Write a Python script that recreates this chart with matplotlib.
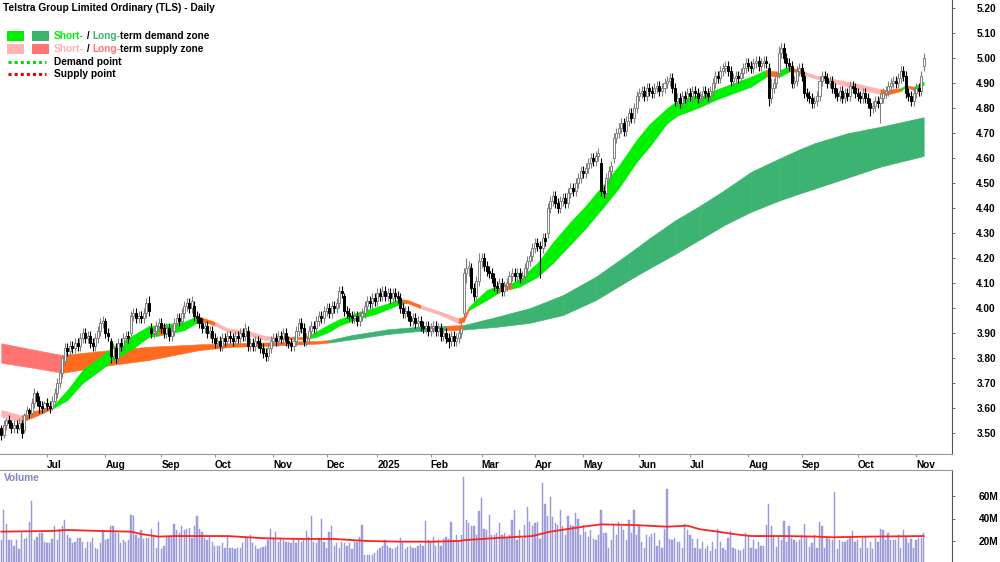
import numpy as np
import matplotlib
matplotlib.use("Agg")
import matplotlib.pyplot as plt
from matplotlib.patches import Rectangle
from matplotlib.lines import Line2D

plt.rcParams['font.family'] = ['Liberation Sans', 'DejaVu Sans']
plt.rcParams['font.weight'] = 'bold'

# daily prices in cents, one value per trading day
opens = [
    352, 349, 353, 355, 354, 352, 353, 352, 354, 351,
    357, 359, 358, 362, 366, 363, 361, 360, 362, 361,
    360, 363, 366, 370, 374, 379, 384, 383, 385, 384,
    386, 385, 388, 390, 388, 389, 386, 385, 388, 391,
    394, 395, 390, 387, 381, 384, 380, 386, 385, 388,
    389, 390, 397, 398, 396, 397, 396, 398, 402, 392,
    390, 391, 393, 394, 392, 390, 392, 389, 391, 394,
    396, 395, 398, 401, 402, 400, 401, 397, 396, 394,
    392, 393, 390, 391, 388, 386, 387, 385, 388, 387,
    389, 388, 387, 389, 388, 390, 389, 391, 385, 386,
    385, 387, 386, 384, 382, 381, 384, 387, 388, 387,
    389, 388, 390, 387, 386, 385, 387, 391, 394, 392,
    387, 388, 391, 393, 392, 395, 397, 396, 399, 400,
    398, 401, 400, 402, 407, 405, 399, 398, 397, 396,
    397, 395, 397, 398, 401, 403, 402, 404, 403, 406,
    405, 407, 405, 406, 404, 406, 405, 404, 400, 398,
    399, 397, 395, 396, 394, 395, 393, 392, 393, 391,
    392, 393, 391, 392, 389, 390, 388, 387, 389, 387,
    388, 390, 398, 414, 416, 416, 408, 405, 411, 419,
    420, 417, 415, 414, 412, 409, 408, 410, 407, 409,
    410, 413, 414, 413, 414, 412, 413, 416, 419, 421,
    424, 426, 425, 424, 428, 430, 440, 443, 445, 442,
    440, 443, 444, 442, 446, 448, 447, 450, 452, 455,
    454, 456, 458, 460, 459, 461, 458, 447, 446, 452,
    455, 460, 468, 470, 472, 474, 471, 475, 478, 476,
    480, 485, 486, 487, 485, 488, 487, 486, 488, 489,
    487, 488, 490, 491, 492, 488, 483, 484, 482, 485,
    484, 486, 485, 487, 486, 484, 485, 487, 486, 485,
    487, 490, 493, 492, 495, 496, 497, 495, 491, 492,
    493, 492, 494, 496, 498, 497, 496, 498, 499, 497,
    498, 499, 496, 484, 488, 490, 494, 502, 504, 500,
    498, 497, 490, 491, 495, 496, 493, 486, 485, 484,
    482, 483, 485, 491, 493, 492, 490, 491, 488, 486,
    485, 487, 484, 486, 485, 489, 488, 486, 485, 484,
    486, 484, 482, 480, 481, 483, 482, 484, 486, 487,
    489, 490, 491, 490, 492, 495, 493, 486, 485, 483,
    486, 488, 487, 497,
]
highs = [
    353, 355, 356, 357, 355, 355, 355, 356, 355, 358,
    361, 360, 364, 368, 367, 365, 363, 363, 364, 363,
    365, 368, 372, 376, 381, 386, 386, 387, 387, 388,
    388, 390, 392, 392, 391, 391, 388, 390, 393, 396,
    397, 396, 392, 388, 386, 386, 388, 388, 390, 391,
    391, 399, 400, 400, 399, 399, 400, 404, 405, 394,
    393, 395, 396, 396, 394, 394, 394, 393, 396, 398,
    398, 400, 403, 404, 404, 405, 403, 399, 398, 396,
    395, 395, 393, 393, 390, 389, 389, 390, 390, 391,
    391, 390, 391, 391, 392, 392, 394, 393, 388, 388,
    389, 389, 388, 386, 384, 386, 389, 390, 390, 391,
    391, 392, 392, 389, 388, 389, 393, 396, 396, 394,
    390, 393, 395, 395, 397, 399, 399, 401, 402, 402,
    403, 403, 404, 409, 409, 406, 401, 400, 399, 399,
    399, 399, 400, 403, 405, 405, 406, 406, 408, 408,
    409, 409, 408, 408, 408, 408, 407, 406, 402, 401,
    401, 399, 398, 398, 397, 397, 395, 395, 395, 394,
    395, 395, 394, 394, 392, 392, 390, 391, 391, 390,
    392, 394, 416, 420, 419, 418, 410, 413, 422, 422,
    422, 419, 417, 416, 414, 411, 412, 412, 411, 412,
    415, 416, 416, 416, 416, 415, 418, 421, 423, 426,
    428, 428, 427, 430, 430, 442, 445, 447, 447, 444,
    445, 446, 446, 448, 450, 450, 452, 454, 457, 457,
    458, 460, 462, 462, 463, 464, 460, 449, 454, 457,
    459, 470, 472, 474, 476, 476, 477, 480, 480, 482,
    487, 488, 489, 489, 490, 490, 489, 490, 491, 491,
    490, 492, 493, 494, 494, 490, 486, 486, 487, 487,
    488, 488, 489, 489, 488, 487, 489, 489, 488, 489,
    492, 495, 495, 497, 498, 499, 499, 497, 494, 495,
    495, 496, 498, 500, 500, 499, 500, 501, 501, 500,
    501, 501, 498, 492, 492, 495, 505, 506, 506, 502,
    500, 499, 493, 497, 498, 498, 495, 488, 487, 486,
    485, 487, 493, 495, 495, 494, 493, 493, 490, 488,
    489, 489, 488, 488, 491, 491, 490, 488, 487, 488,
    488, 486, 484, 483, 485, 485, 486, 488, 489, 491,
    492, 493, 493, 494, 497, 497, 495, 488, 487, 488,
    490, 490, 495, 502,
]
lows = [
    347, 348, 351, 352, 350, 350, 350, 351, 348, 350,
    355, 356, 357, 360, 361, 358, 358, 358, 359, 358,
    359, 361, 364, 368, 372, 377, 381, 381, 382, 382,
    383, 383, 386, 386, 386, 384, 383, 383, 386, 389,
    392, 388, 387, 378, 379, 378, 378, 383, 383, 386,
    386, 389, 395, 394, 394, 394, 394, 396, 397, 388,
    388, 389, 391, 390, 388, 388, 387, 387, 389, 392,
    393, 393, 396, 399, 398, 398, 395, 394, 392, 390,
    390, 388, 388, 386, 384, 384, 383, 383, 385, 385,
    386, 385, 385, 386, 386, 387, 387, 383, 383, 383,
    383, 384, 382, 380, 379, 379, 382, 385, 385, 385,
    386, 386, 385, 384, 383, 383, 385, 389, 390, 385,
    385, 386, 389, 390, 390, 393, 394, 394, 397, 396,
    396, 398, 398, 400, 404, 397, 396, 395, 394, 394,
    393, 393, 395, 396, 399, 400, 400, 401, 401, 403,
    403, 403, 403, 402, 402, 403, 402, 398, 396, 396,
    395, 393, 393, 392, 392, 391, 390, 390, 389, 389,
    390, 389, 389, 387, 387, 386, 384, 385, 385, 385,
    386, 388, 396, 410, 413, 406, 403, 403, 409, 416,
    415, 413, 412, 410, 407, 406, 406, 405, 405, 407,
    408, 411, 411, 411, 410, 410, 411, 414, 417, 419,
    422, 423, 412, 422, 425, 428, 438, 441, 440, 438,
    438, 441, 440, 440, 444, 445, 445, 448, 450, 452,
    452, 454, 456, 457, 457, 459, 445, 444, 444, 450,
    453, 458, 466, 468, 470, 469, 469, 473, 474, 474,
    478, 483, 484, 483, 483, 485, 484, 484, 486, 485,
    485, 486, 488, 489, 486, 481, 481, 480, 480, 482,
    482, 483, 483, 484, 482, 482, 483, 484, 483, 483,
    485, 488, 490, 490, 493, 494, 493, 489, 489, 490,
    490, 490, 492, 494, 495, 494, 494, 496, 495, 495,
    496, 496, 481, 482, 486, 488, 492, 500, 498, 496,
    495, 488, 488, 489, 493, 491, 484, 483, 482, 480,
    480, 481, 483, 489, 490, 488, 488, 486, 484, 483,
    483, 482, 482, 483, 483, 486, 484, 483, 482, 482,
    482, 480, 477, 478, 479, 480, 474, 482, 484, 485,
    487, 488, 488, 488, 490, 491, 484, 483, 481, 481,
    484, 485, 485, 495,
]
closes = [
    349, 353, 355, 354, 352, 353, 352, 354, 350, 357,
    359, 358, 362, 366, 363, 361, 360, 362, 361, 360,
    363, 366, 370, 374, 380, 384, 383, 385, 384, 386,
    385, 388, 390, 388, 389, 386, 385, 388, 391, 394,
    395, 390, 389, 381, 384, 380, 386, 385, 388, 389,
    388, 397, 398, 396, 397, 396, 398, 402, 399, 390,
    391, 393, 394, 392, 390, 392, 389, 391, 394, 396,
    395, 398, 401, 402, 400, 403, 397, 396, 394, 392,
    393, 390, 391, 388, 386, 387, 385, 388, 387, 389,
    388, 387, 389, 388, 390, 389, 392, 385, 386, 385,
    387, 386, 384, 382, 381, 384, 387, 388, 387, 389,
    388, 390, 387, 386, 385, 387, 391, 394, 392, 387,
    388, 391, 393, 392, 395, 397, 396, 399, 400, 398,
    401, 400, 402, 407, 406, 399, 398, 397, 396, 397,
    395, 397, 398, 401, 403, 402, 404, 403, 406, 405,
    407, 405, 406, 404, 406, 405, 404, 400, 398, 399,
    397, 395, 396, 394, 395, 393, 392, 393, 391, 392,
    393, 391, 392, 389, 390, 388, 387, 389, 387, 388,
    390, 392, 414, 416, 417, 408, 405, 411, 419, 420,
    417, 415, 414, 412, 409, 408, 410, 407, 409, 410,
    413, 414, 413, 414, 412, 413, 416, 419, 421, 424,
    426, 425, 424, 428, 427, 440, 443, 445, 442, 440,
    443, 444, 442, 446, 448, 447, 450, 452, 455, 454,
    456, 458, 460, 459, 461, 462, 447, 446, 452, 455,
    457, 468, 470, 472, 474, 471, 475, 478, 476, 480,
    485, 486, 487, 485, 488, 487, 486, 488, 489, 487,
    488, 490, 491, 492, 488, 483, 484, 482, 485, 484,
    486, 485, 487, 486, 484, 485, 487, 486, 485, 487,
    490, 493, 492, 495, 496, 497, 495, 491, 492, 493,
    492, 494, 496, 498, 497, 496, 498, 499, 497, 498,
    499, 498, 484, 488, 490, 493, 502, 504, 500, 498,
    497, 490, 491, 495, 496, 493, 486, 485, 484, 482,
    483, 485, 491, 493, 492, 490, 491, 488, 486, 485,
    487, 484, 486, 485, 489, 488, 486, 485, 484, 486,
    484, 482, 480, 481, 483, 482, 484, 486, 487, 489,
    490, 491, 490, 492, 495, 493, 486, 485, 483, 486,
    488, 487, 493, 500,
]
# daily volume, millions of shares
volume = [
    21, 48, 35, 21, 21, 16, 21, 13, 27, 22,
    23, 37, 56, 21, 24, 27, 27, 19, 18, 18,
    22, 33, 21, 31, 33, 39, 25, 23, 18, 19,
    23, 23, 19, 14, 19, 19, 23, 14, 13, 18,
    30, 21, 22, 33, 33, 27, 27, 18, 21, 19,
    21, 43, 42, 25, 23, 30, 22, 23, 23, 31,
    25, 14, 37, 13, 16, 24, 24, 24, 35, 30,
    27, 33, 30, 31, 32, 23, 33, 42, 31, 28,
    23, 21, 24, 19, 16, 16, 16, 18, 14, 24,
    14, 14, 13, 14, 14, 18, 23, 23, 25, 18,
    16, 13, 14, 15, 16, 21, 31, 23, 28, 19,
    23, 21, 19, 19, 18, 21, 18, 21, 19, 21,
    29, 24, 42, 19, 18, 23, 40, 19, 14, 28,
    33, 16, 18, 14, 19, 18, 16, 18, 13, 19,
    19, 24, 34, 8, 8, 8, 8, 9, 12, 14,
    16, 21, 16, 14, 13, 14, 16, 23, 18, 13,
    15, 16, 14, 14, 16, 17, 16, 38, 21, 19,
    24, 16, 21, 16, 22, 24, 22, 37, 21, 25,
    19, 25, 77, 39, 36, 33, 33, 25, 47, 58,
    31, 30, 43, 25, 25, 27, 36, 25, 27, 23,
    25, 39, 48, 21, 30, 23, 34, 50, 37, 33,
    36, 37, 22, 72, 53, 42, 59, 41, 36, 34,
    48, 33, 25, 42, 34, 33, 45, 40, 25, 34,
    28, 24, 30, 22, 21, 25, 48, 27, 27, 14,
    21, 34, 25, 37, 33, 30, 21, 39, 27, 48,
    25, 34, 19, 14, 25, 24, 26, 27, 16, 21,
    14, 31, 66, 22, 21, 23, 19, 19, 14, 35,
    30, 25, 22, 14, 22, 13, 19, 13, 16, 11,
    19, 13, 31, 19, 14, 12, 23, 29, 14, 13,
    12, 11, 13, 27, 25, 14, 21, 13, 19, 16,
    16, 34, 53, 33, 25, 15, 24, 21, 38, 19,
    33, 23, 21, 19, 21, 25, 35, 24, 15, 18,
    25, 14, 37, 33, 14, 24, 22, 21, 64, 13,
    21, 19, 19, 21, 23, 29, 19, 21, 14, 23,
    24, 14, 19, 13, 23, 19, 31, 30, 21, 27,
    21, 21, 21, 25, 14, 30, 24, 18, 22, 14,
    21, 23, 23, 27,
]
# volume average line, read at a few bars
vma_idx = [0, 20, 26, 39, 51, 55, 62, 68, 89, 104, 118, 131, 144, 157, 170, 180, 183,
           196, 209, 216, 229, 236, 249, 262, 270, 275, 282, 288, 295, 308, 321, 327, 341, 363]
vma_val = [28.3, 28.9, 29.8, 28.9, 28.3, 26.2, 23.9, 24.4, 24.4, 22.4, 21.8, 21.8, 20.0, 19.4,
           19.4, 20.0, 20.9, 22.8, 24.4, 28.3, 32.7, 34.8, 34.2, 32.7, 33.6, 30.4, 28.3, 26.2,
           24.4, 24.4, 23.9, 23.3, 23.9, 24.4]

# long-term zone edges (bar index, top, bottom, colour code per segment)
lt_idx = [0, 12, 24, 43, 58, 78, 91, 104, 118, 125, 129, 138, 152, 165, 175, 182, 195, 208,
          221, 234, 247, 255, 265, 275, 285, 295, 306, 314, 320, 333, 346, 363]
lt_top = [3.859, 3.835, 3.812, 3.832, 3.845, 3.855, 3.859, 3.862, 3.867, 3.868, 3.872, 3.892,
          3.915, 3.926, 3.929, 3.932, 3.965, 4.000, 4.052, 4.126, 4.219, 4.279, 4.35, 4.41,
          4.475, 4.545, 4.598, 4.635, 4.660, 4.70, 4.726, 4.764]
lt_bot = [3.781, 3.762, 3.741, 3.772, 3.792, 3.832, 3.845, 3.849, 3.855, 3.858, 3.862, 3.875,
          3.896, 3.909, 3.911, 3.914, 3.925, 3.941, 3.972, 4.032, 4.112, 4.159, 4.215, 4.275,
          4.335, 4.385, 4.430, 4.458, 4.478, 4.522, 4.566, 4.609]
lt_col = "RR" + "oooooooo" + "GGGG" + "o" + "GGGGGGGGGGGGGGGGG"

# short-term zone edges
st_idx = [0, 8, 13, 20, 26, 32, 39, 44, 52, 58,
          62, 64, 72, 77, 78, 81, 84, 89, 98, 104,
          108, 111, 118, 121, 124, 129, 133, 141, 148, 156,
          158, 160, 165, 173, 180, 182, 184, 191, 196, 198,
          201, 204, 211, 217, 224, 230, 237, 243, 250, 255,
          262, 266, 275, 281, 288, 295, 301, 302, 306, 307,
          310, 311, 316, 320, 326, 333, 339, 346, 348, 354,
          356, 357, 359, 361, 363]
st_top = [3.592, 3.570, 3.588, 3.605, 3.672, 3.752, 3.805, 3.845, 3.892, 3.928,
          3.932, 3.934, 3.945, 3.968, 3.966, 3.955, 3.945, 3.919, 3.906, 3.888,
          3.885, 3.885, 3.885, 3.890, 3.906, 3.935, 3.955, 3.985, 4.005, 4.032,
          4.035, 4.032, 4.012, 3.985, 3.959, 3.965, 4.005, 4.072, 4.092, 4.096,
          4.100, 4.119, 4.180, 4.262, 4.345, 4.410, 4.495, 4.570, 4.673, 4.735,
          4.800, 4.830, 4.855, 4.873, 4.900, 4.926, 4.953, 4.950, 4.946, 4.955,
          4.966, 4.963, 4.946, 4.933, 4.920, 4.906, 4.893, 4.876, 4.873, 4.880,
          4.893, 4.890, 4.886, 4.895, 4.906]
st_bot = [3.565, 3.545, 3.565, 3.597, 3.632, 3.700, 3.752, 3.792, 3.839, 3.885,
          3.890, 3.894, 3.912, 3.942, 3.945, 3.942, 3.930, 3.906, 3.888, 3.872,
          3.873, 3.875, 3.875, 3.878, 3.885, 3.905, 3.930, 3.959, 3.979, 4.012,
          4.018, 4.020, 3.999, 3.972, 3.939, 3.945, 3.992, 4.032, 4.064, 4.072,
          4.078, 4.086, 4.125, 4.180, 4.255, 4.320, 4.405, 4.480, 4.585, 4.645,
          4.740, 4.770, 4.805, 4.833, 4.860, 4.886, 4.926, 4.930, 4.926, 4.930,
          4.946, 4.950, 4.933, 4.920, 4.906, 4.886, 4.873, 4.857, 4.853, 4.869,
          4.886, 4.882, 4.873, 4.885, 4.893]
st_col = ("pooggggggg" "ogggoopppp" "oooggggggg" "ooppooggoo" "gggggggggg"
          "ggggggoogg" "oopppppoog" "ooggg")

month_idx = [18, 41, 63, 84, 107, 128, 148, 169, 189, 210, 229, 251, 271, 294, 315, 337, 360]
month_lbl = ["Jul", "Aug", "Sep", "Oct", "Nov", "Dec", "2025", "Feb", "Mar", "Apr", "May",
             "Jun", "Jul", "Aug", "Sep", "Oct", "Nov"]

assert len(opens) == len(highs) == len(lows) == len(closes) == len(volume), \
    (len(opens), len(highs), len(lows), len(closes), len(volume))

GREEN = '#00f000'
DKGREEN = '#3cb371'
PINK = '#ffb3b3'
SALMON = '#ff7373'
ORANGE = '#ff6a1f'
palette = {'g': GREEN, 'G': DKGREEN, 'p': PINK, 'R': SALMON, 'o': ORANGE}
FS = 7.3

W, H = 1000, 562
fig = plt.figure(figsize=(10, 5.62), dpi=100)
ax = fig.add_axes([0, 1 - 454 / H, 952 / W, 454 / H])
axv = fig.add_axes([0, 0, 952 / W, 1 - 470 / H])

x = np.arange(len(closes))
o = np.array(opens) / 100
h = np.array(highs) / 100
l = np.array(lows) / 100
c = np.array(closes) / 100


def draw_zone(xs, top, bot, codes, z):
    for k in range(len(xs) - 1):
        col = palette[codes[k]]
        ax.fill_between(xs[k:k + 2], bot[k:k + 2], top[k:k + 2], facecolor=col,
                        edgecolor=col, linewidth=0.4, zorder=z)


draw_zone(lt_idx, lt_top, lt_bot, lt_col, 1)
draw_zone(st_idx, st_top, st_bot, st_col, 2)

# candles
up = c >= o
ax.vlines(x[up], l[up], h[up], color='#808080', linewidth=0.8, zorder=3)
ax.vlines(x[~up], l[~up], h[~up], color='black', linewidth=0.8, zorder=3)
body_lo = np.minimum(o, c)
body_h = np.maximum(np.abs(c - o), 0.003)
ax.bar(x[up], body_h[up], bottom=body_lo[up], width=0.8, facecolor='white',
       edgecolor='#808080', linewidth=0.7, zorder=4)
ax.bar(x[~up], body_h[~up], bottom=body_lo[~up], width=0.8, facecolor='black',
       edgecolor='black', linewidth=0.7, zorder=4)

xlim = (-1.3 / 2.541, (952 - 1.3) / 2.541)
ax.set_xlim(xlim)
ax.set_ylim(5.20 - (454 - 8.3) * 0.004003, 5.20 + 8.3 * 0.004003)

for s in ['left', 'top']:
    ax.spines[s].set_visible(False)
ax.spines['right'].set_color('#555555')
ax.spines['bottom'].set_color('#999999')
ax.yaxis.tick_right()
price_ticks = np.round(np.arange(3.5, 5.21, 0.1), 2)
ax.set_yticks(price_ticks)
ax.set_yticklabels([f"{v:.2f}" for v in price_ticks])
ax.tick_params(axis='y', length=2.5, width=0.6, color='#555555', pad=15, labelsize=FS)
ax.set_xticks(month_idx)
ax.set_xticklabels(month_lbl)
ax.tick_params(axis='x', length=2.5, width=0.8, color='#999999', pad=1.5, labelsize=FS)
for lbl in ax.get_xticklabels():
    lbl.set_horizontalalignment('left')

# volume panel
axv.bar(x, volume, width=0.5, color='#a3a3dd', edgecolor='#8f8fd2', linewidth=0.3)
axv.plot(vma_idx, vma_val, color='#ff2222', linewidth=1.3)
axv.set_xlim(xlim)
axv.set_ylim((563.5 - 562) / 1.125, (563.5 - 470) / 1.125)
for s in ['left', 'bottom']:
    axv.spines[s].set_visible(False)
axv.spines['right'].set_color('#555555')
axv.spines['top'].set_color('#999999')
axv.set_xticks([])
axv.yaxis.tick_right()
axv.set_yticks([20, 40, 60])
axv.set_yticklabels(['20M', '40M', '60M'])
axv.tick_params(axis='y', length=2.5, width=0.6, color='#555555', pad=17, labelsize=FS)
axv.text(4 / 952, 1 - 8 / 92, "Volume", transform=axv.transAxes, color='#8585c8',
         fontsize=FS, va='center', ha='left')

# title and legend
fig.text(3 / W, 1 - 8 / H, "Telstra Group Limited Ordinary (TLS) - Daily",
         fontsize=FS, va='center', ha='left')


def color_line(px, py, parts):
    t = fig.text(px / W, 1 - py / H, parts[0][0], color=parts[0][1], fontsize=FS,
                 va='bottom', ha='left')
    for s, col in parts[1:]:
        t = ax.annotate(s, xy=(1, 0), xycoords=t, color=col, fontsize=FS,
                        va='bottom', ha='left')


swatches = [(7, 41, GREEN), (32, 41, DKGREEN), (7, 54, PINK), (32, 54, SALMON)]
for px, py, col in swatches:
    fig.add_artist(Rectangle((px / W, 1 - py / H), 17 / W, 10 / H,
                             transform=fig.transFigure, facecolor=col, edgecolor='none'))
fig.add_artist(Line2D([8 / W, 46 / W], [1 - 62 / H] * 2, transform=fig.transFigure,
                      color='#00dd00', linestyle=(0, (1, 1)), linewidth=2.2))
fig.add_artist(Line2D([8 / W, 46 / W], [1 - 74 / H] * 2, transform=fig.transFigure,
                      color='#ee0000', linestyle=(0, (1, 1)), linewidth=2.2))

color_line(54, 41, [("Short-", GREEN), (" / ", 'black'), ("Long-", DKGREEN),
                    ("term demand zone", 'black')])
color_line(54, 54, [("Short-", PINK), (" / ", 'black'), ("Long-", SALMON),
                    ("term supply zone", 'black')])
color_line(54, 67, [("Demand point", 'black')])
color_line(54, 79, [("Supply point", 'black')])

fig.savefig("out.png", dpi=100)
